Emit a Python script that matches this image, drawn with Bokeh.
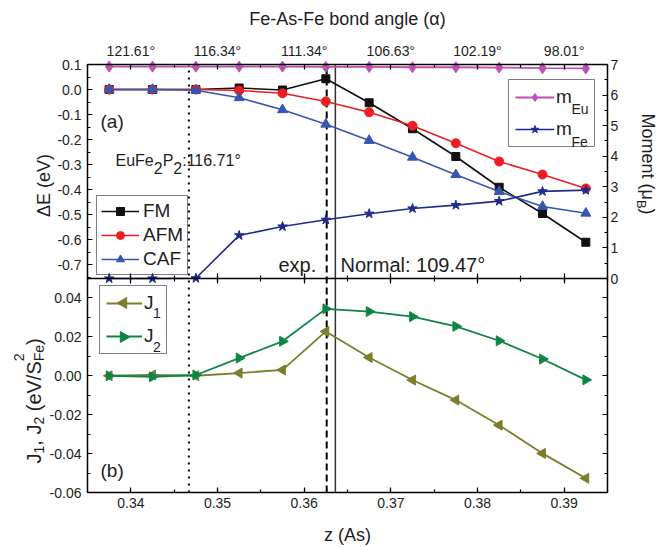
import numpy as np
from bokeh.plotting import figure
from bokeh.models import (Range1d, LinearAxis, FixedTicker, PrintfTickFormatter,
                          Label, Legend, LegendItem)
from bokeh.embed import file_html
from bokeh.resources import INLINE

# ---------------- data ----------------
z_As = [0.3375, 0.3425, 0.3475, 0.3525, 0.3575, 0.3625,
        0.3675, 0.3725, 0.3775, 0.3825, 0.3875, 0.3925]
dE_FM = [0.0, 0.0, 0.0, 0.006, -0.002, 0.043, -0.053, -0.157, -0.268, -0.391, -0.496, -0.611]
dE_AFM = [0.0, 0.0, 0.0, -0.004, -0.015, -0.048, -0.091, -0.145, -0.215, -0.288, -0.340, -0.396]
dE_CAF = [0.0, 0.0, -0.003, -0.033, -0.081, -0.139, -0.204, -0.271, -0.341, -0.408, -0.468, -0.495]
m_Eu = [6.93, 6.93, 6.93, 6.93, 6.93, 6.92, 6.92, 6.91, 6.91, 6.90, 6.88, 6.87]
m_Fe = [0.0, 0.0, 0.01, 1.41, 1.70, 1.92, 2.12, 2.29, 2.40, 2.53, 2.85, 2.89]
J1 = [0.0, 0.0004, 0.0, 0.0014, 0.003, 0.0228, 0.0094, -0.0022, -0.0125, -0.0254, -0.0399, -0.0527]
J2 = [0.0, -0.0005, 0.0004, 0.0091, 0.0177, 0.0344, 0.033, 0.0304, 0.0254, 0.018, 0.0086, -0.0021]

z_ticks = [0.34, 0.35, 0.36, 0.37, 0.38, 0.39]
angle_labels = ["121.61°", "116.34°", "111.34°", "106.63°", "102.19°", "98.01°"]
dE_ticks = [-0.7, -0.6, -0.5, -0.4, -0.3, -0.2, -0.1, 0.0, 0.1]
J_ticks = [-0.06, -0.04, -0.02, 0.0, 0.02, 0.04]
mom_ticks = [0, 1, 2, 3, 4, 5, 6, 7]

z_EuFe2P2 = 0.3467   # 116.71 deg
z_exp = 0.3626
z_normal = 0.3636    # 109.47 deg

# ---------------- layout ----------------
FONT = "Liberation Sans"
TXT = "#1e1e1e"
W, H = 670, 547
FL, FR = 87, 607            # panel left/right (px)
T1, MID, B2 = 64, 278, 492  # panel top / divider / bottom (px)
XR = (0.335, 0.395)
YR1 = (-0.756, 0.1)         # top panel  (Delta E)
YR2 = (-0.06, 0.05)         # bottom panel (J)
MR = (0.0, 7.0)             # moments


def px_x(px):
    return XR[0] + (px - FL) / (FR - FL) * (XR[1] - XR[0])


def py_y(py):      # J scale, shared by the whole canvas
    return YR2[1] - (py - MID) / (B2 - MID) * (YR2[1] - YR2[0])


def py_dE(py):
    return YR1[1] - (py - T1) / (MID - T1) * (YR1[1] - YR1[0])


def py_m(py):
    return MR[1] - (py - T1) / (MID - T1) * (MR[1] - MR[0])


C_FM, C_AFM, C_CAF = "#111111", "#ee1d23", "#3656b0"
C_EU, C_FE = "#bf4fb4", "#1f2a8c"
C_J1, C_J2 = "#7d7d2b", "#0d8545"

CW = {' ': 278, '(': 333, ')': 333, ',': 278, '.': 278, '/': 278, ':': 278, '°': 400,
      'A': 667, 'B': 667, 'E': 667, 'F': 611, 'J': 500, 'M': 833, 'N': 722, 'P': 667,
      'S': 667, 'V': 667, 'e': 556, 'o': 556, 'm': 833, 'n': 556, 't': 278, 'u': 556,
      'a': 556, 'l': 222, 'r': 333, 'x': 500, 'p': 556, 'Δ': 668, 'μ': 577}


def tw(s, size):
    return sum(CW.get(c, 556) for c in s) / 1000.0 * size


def lab(fig, px, py, text, size, base='alphabetic', align='left', angle=0.0):
    fig.add_layout(Label(x=px_x(px), y=py_y(py), text=text, angle=angle,
                         text_align=align, text_baseline=base, text_font=FONT,
                         text_font_size=f"{size}px", text_color=TXT))


def run(fig, pieces, start, base, dirn):
    pos = start
    sgn = -1 if dirn == 'up' else 1
    for text, size, shift, adv in pieces:
        stripped = text.lstrip(' ')
        lead = tw(text[:len(text) - len(stripped)], size)
        p0 = pos + sgn * lead
        if dirn == 'right':
            px, py, ang = p0, base + shift, 0.0
        elif dirn == 'up':
            px, py, ang = base + shift, p0, np.pi / 2
        else:
            px, py, ang = base - shift, p0, -np.pi / 2
        lab(fig, px, py, stripped, size, angle=ang)
        if adv:
            pos = pos + sgn * tw(text, size)


def style_axis(ax, labels=True, standoff=5, tin=5, tout=0):
    ax.axis_line_width = 1.5
    ax.axis_line_color = "black"
    ax.major_tick_in = tin
    ax.major_tick_out = tout
    ax.minor_tick_in = 3 if tin else 0
    ax.minor_tick_out = 3 if tout else 0
    ax.major_tick_line_width = 1.2
    ax.minor_tick_line_width = 1.2
    ax.major_tick_line_color = "black"
    ax.minor_tick_line_color = "black"
    ax.major_label_text_font = FONT
    if labels:
        ax.major_label_text_font_size = "14px"
        ax.major_label_text_color = TXT
        ax.major_label_standoff = standoff
    else:
        ax.major_label_text_font_size = "0px"
        ax.major_label_text_color = None
        ax.major_label_standoff = 0


z_minor = [round(0.335 + 0.005 * i, 4) for i in range(13)]
dE_minor = [round(-0.75 + 0.05 * i, 3) for i in range(18)]
J_minor = [round(-0.05 + 0.02 * i, 3) for i in range(6)]
mom_minor = [0.5 + i for i in range(7)]

# the frame covers the whole canvas; panels are drawn with pinned axes
p = figure(width=W, height=H,
           x_range=Range1d(px_x(0), px_x(W)), y_range=Range1d(py_y(H), py_y(0)),
           min_border_left=0, min_border_right=0, min_border_top=0, min_border_bottom=0,
           x_axis_location=None, y_axis_location=None,
           output_backend="svg", toolbar_location=None)
p.extra_y_ranges = {"dE": Range1d(py_dE(H), py_dE(0)), "mom": Range1d(py_m(H), py_m(0))}
p.grid.grid_line_color = None
p.outline_line_color = None
p.background_fill_color = "white"
p.border_fill_color = "white"

# left axes
ax = LinearAxis(y_range_name="dE", bounds=YR1, fixed_location=XR[0],
                ticker=FixedTicker(ticks=dE_ticks, minor_ticks=dE_minor),
                formatter=PrintfTickFormatter(format="%.1f"))
style_axis(ax, True, 6)
p.add_layout(ax, "left")
ax = LinearAxis(bounds=YR2, fixed_location=XR[0],
                ticker=FixedTicker(ticks=J_ticks, minor_ticks=J_minor),
                formatter=PrintfTickFormatter(format="%.2f"))
style_axis(ax, True, 6)
p.add_layout(ax, "left")
# right axes
ax = LinearAxis(y_range_name="mom", bounds=MR, fixed_location=XR[1],
                ticker=FixedTicker(ticks=mom_ticks, minor_ticks=mom_minor),
                formatter=PrintfTickFormatter(format="%d"))
style_axis(ax, True, 3)
p.add_layout(ax, "right")
ax = LinearAxis(bounds=YR2, fixed_location=XR[1],
                ticker=FixedTicker(ticks=J_ticks, minor_ticks=J_minor))
style_axis(ax, False)
p.add_layout(ax, "right")
# top axis (bond angle)
ax = LinearAxis(bounds=XR, fixed_location=py_y(T1),
                ticker=FixedTicker(ticks=z_ticks, minor_ticks=z_minor),
                major_label_overrides=dict(zip(z_ticks, angle_labels)))
style_axis(ax, True, 6)
p.add_layout(ax, "above")
# divider between the panels, ticks both ways
ax = LinearAxis(bounds=XR, fixed_location=YR2[1],
                ticker=FixedTicker(ticks=z_ticks, minor_ticks=z_minor))
style_axis(ax, False, tin=5, tout=5)
p.add_layout(ax, "above")
# bottom axis
ax = LinearAxis(bounds=XR, fixed_location=YR2[0],
                ticker=FixedTicker(ticks=z_ticks, minor_ticks=z_minor),
                formatter=PrintfTickFormatter(format="%.2f"))
style_axis(ax, True, 5)
p.add_layout(ax, "below")

# reference lines (full height of both panels)
ytop = py_y(T1)
p.segment(x0=[z_EuFe2P2], y0=[YR2[0]], x1=[z_EuFe2P2], y1=[ytop],
          line_color="black", line_width=2, line_dash="2 5")
p.segment(x0=[z_exp], y0=[YR2[0]], x1=[z_exp], y1=[ytop],
          line_color="black", line_width=2, line_dash="7 4")
p.segment(x0=[z_normal], y0=[YR2[0]], x1=[z_normal], y1=[ytop],
          line_color="#333333", line_width=1.5)

# top panel series
l_fm = p.line(z_As, dE_FM, line_color=C_FM, line_width=1.6, y_range_name="dE")
s_fm = p.scatter(z_As, dE_FM, marker="square", size=8, color=C_FM, y_range_name="dE")
l_afm = p.line(z_As, dE_AFM, line_color=C_AFM, line_width=1.6, y_range_name="dE")
s_afm = p.scatter(z_As, dE_AFM, marker="circle", size=9, color=C_AFM, y_range_name="dE")
l_caf = p.line(z_As, dE_CAF, line_color=C_CAF, line_width=1.6, y_range_name="dE")
s_caf = p.scatter(z_As, dE_CAF, marker="triangle", size=10, color=C_CAF, y_range_name="dE")
l_eu = p.line(z_As, m_Eu, line_color=C_EU, line_width=1.8, y_range_name="mom")
s_eu = p.scatter(z_As, m_Eu, marker="diamond", size=11, color=C_EU, y_range_name="mom")
l_fe = p.line(z_As, m_Fe, line_color=C_FE, line_width=1.6, y_range_name="mom")
s_fe = p.scatter(z_As, m_Fe, marker="star", size=10, color=C_FE, y_range_name="mom")

# bottom panel series
l_j1 = p.line(z_As, J1, line_color=C_J1, line_width=1.8)
s_j1 = p.scatter(z_As, J1, marker="triangle", size=10, color=C_J1, angle=np.pi / 2)
l_j2 = p.line(z_As, J2, line_color=C_J2, line_width=1.8)
s_j2 = p.scatter(z_As, J2, marker="triangle", size=10, color=C_J2, angle=-np.pi / 2)

# J legend keys: sideways triangles under the (transparent) legend
p.scatter([px_x(123), px_x(123)], [py_y(302.5), py_y(336.5)], marker="triangle", size=11,
          color=[C_J1, C_J2], angle=[np.pi / 2, -np.pi / 2])

leg_common = dict(orientation="vertical", margin=0, glyph_height=20, label_height=20,
                  label_text_font=FONT, label_text_font_size="19px", label_text_color=TXT,
                  border_line_color="black", border_line_width=1.2,
                  background_fill_alpha=0.0)

NB = "\u00a0"
p.add_layout(Legend(items=[LegendItem(label="FM", renderers=[l_fm, s_fm]),
                           LegendItem(label="AFM", renderers=[l_afm, s_afm]),
                           LegendItem(label="CAF", renderers=[l_caf, s_caf])],
                    location=(96, H - 275), padding=4, spacing=2, glyph_width=38,
                    label_standoff=4, **leg_common))
p.add_layout(Legend(items=[LegendItem(label="m" + NB * 3, renderers=[l_eu, s_eu]),
                           LegendItem(label="m" + NB * 3, renderers=[l_fe, s_fe])],
                    location=(508, H - 147), padding=6, spacing=10, glyph_width=39,
                    label_standoff=2, label_width=0, **leg_common))
p.add_layout(Legend(items=[LegendItem(label="J", renderers=[l_j1]),
                           LegendItem(label="J", renderers=[l_j2])],
                    location=(99, H - 354), padding=6, spacing=11, glyph_width=36,
                    label_standoff=2, label_width=16, **leg_common))

# legend subscripts
lab(p, 571, 108, "Eu", 14, 'middle')
lab(p, 571, 141, "Fe", 14, 'middle')
lab(p, 152.5, 312.5, "1", 14, 'middle')
lab(p, 152.5, 346.5, "2", 14, 'middle')

# panel annotations
lab(p, 100, 121, "(a)", 19, 'middle')
lab(p, 100, 470, "(b)", 19, 'middle')
lab(p, 278, 264, "exp.", 20)
lab(p, 340, 264, "Normal: 109.47°", 20)
run(p, [("EuFe", 16, 0, True), ("2", 16, 7, True), ("P", 16, 0, True),
        ("2", 16, 7, True), (":116.71°", 16, 0, True)], 115, 160, 'right')

# axis titles
lab(p, (FL + FR) / 2, 18, "Fe-As-Fe bond angle (α)", 18, 'middle', 'center')
lab(p, (FL + FR) / 2, 534, "z (As)", 18, 'middle', 'center')
lab(p, 43, 185, "ΔE (eV)", 18, 'alphabetic', 'center', np.pi / 2)
run(p, [("Moment (μ", 18, 0, True), ("B", 13, 6, True), (")", 18, 0, True)],
    113, 647, 'down')
run(p, [("J", 20, 0, True), ("1", 14, 5, True), (", J", 20, 0, True),
        ("2", 14, 5, True), (" (eV/S", 20, 0, True), ("2", 14, -15, False),
        ("Fe", 14, 5, True), (")", 20, 0, True)], 463, 33, 'up')

open("out.html", "w").write(file_html(p, INLINE))
